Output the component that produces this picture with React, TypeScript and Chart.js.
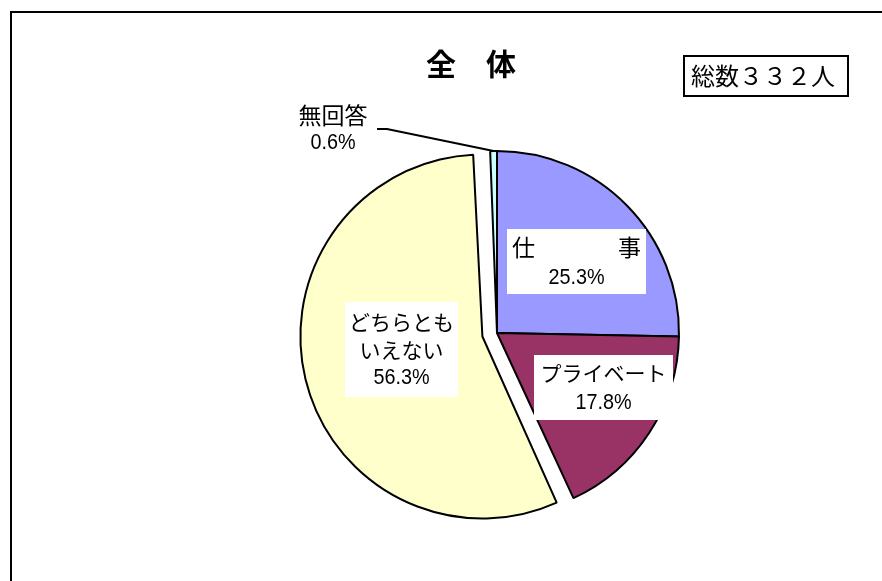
import React, { useEffect, useRef } from "react";
import { Chart, registerables } from "chart.js";

Chart.register(...registerables);

// ---- data ----
const categories = ["仕事", "プライベート", "どちらともいえない", "無回答"];
const percentages = [25.3, 17.8, 56.3, 0.6];
const valueLabels = ["25.3%", "17.8%", "56.3%", "0.6%"];
const sliceColors = ["#9999FF", "#993366", "#FFFFCC", "#CCFFFF"];
const explodeAmounts = [0, 0, 60, 0];
const chartTitle = "全　体";
const totalLabel = "総数３３２人";

// label text lines (a line given as two parts is spread to the box edges)
// each line: [parts, kind]  kind: "k" kanji, "j" kana, "n" number
const labelLines: [string[], string][][] = [
  [[["仕", "事"], "k"], [[valueLabels[0]], "n"]],
  [[["プライベート"], "j"], [[valueLabels[1]], "n"]],
  [[["どちらとも"], "j"], [["いえない"], "j"], [[valueLabels[2]], "n"]],
  [[["無回答"], "k"], [[valueLabels[3]], "n"]],
];

// label placement relative to pie centre (px) and box sizes
const labelLayout = [
  { dx: 79.5, dy: -71.5, w: 139, h: 65, lh: 31, shift: 1, box: true },
  { dx: 106.5, dy: 54.5, w: 139, h: 65, lh: 30, shift: 0.5, box: true },
  { dx: -95.5, dy: 16.5, w: 113, h: 95, lh: 28, shift: 0.5, box: true },
  { dx: -164, dy: -204, w: 80, h: 56, lh: 28, shift: 0, box: false },
];

const JP_FONT = '"Noto Sans CJK JP", sans-serif';
const NUM_FONT = '"Liberation Sans", "Noto Sans CJK JP", sans-serif';

function drawText(ctx: CanvasRenderingContext2D, text: string, x: number, y: number, kind: string, align: CanvasTextAlign) {
  ctx.textAlign = align;
  if (kind === "n") {
    ctx.save();
    ctx.font = `22px ${NUM_FONT}`;
    ctx.translate(x, y);
    ctx.scale(0.9, 1);
    ctx.fillText(text, 0, 0);
    ctx.restore();
  } else {
    ctx.font = kind === "k" ? `23px ${JP_FONT}` : `21px ${JP_FONT}`;
    ctx.fillText(text, x, y);
  }
}

const overlayPlugin = {
  id: "overlay",
  beforeDatasetsDraw(chart: any) {
    const arcs = chart.getDatasetMeta(0).data as any[];
    const baseR = arcs[0].outerRadius;
    arcs.forEach((arc, i) => {
      const off = explodeAmounts[i];
      if (off) arc.outerRadius = baseR - off / 4;
    });
  },
  afterDraw(chart: any) {
    const ctx: CanvasRenderingContext2D = chart.ctx;
    const arcs = chart.getDatasetMeta(0).data as any[];
    const cx = arcs[0].x;
    const cy = arcs[0].y;
    const R = arcs[0].outerRadius;

    ctx.save();
    // outer frame
    ctx.fillStyle = "#000";
    ctx.fillRect(10, 11, 872, 2);
    ctx.fillRect(10, 11, 2, 570);

    // title
    ctx.font = `bold 30px ${JP_FONT}`;
    ctx.textAlign = "center";
    ctx.textBaseline = "middle";
    ctx.fillStyle = "#000";
    ctx.fillText(chartTitle, 471, 64);

    // total box
    ctx.fillStyle = "#fff";
    ctx.fillRect(684, 56, 164, 40);
    ctx.strokeStyle = "#000";
    ctx.lineWidth = 2;
    ctx.strokeRect(684, 56, 164, 40);
    ctx.fillStyle = "#000";
    ctx.font = `24px ${JP_FONT}`;
    ctx.textAlign = "center";
    ctx.fillText(totalLabel, 763, 76);

    // leader line for 無回答
    const small = arcs[3];
    const mid = (small.startAngle + small.endAngle) / 2;
    const ex = cx + Math.cos(mid) * R;
    const ey = cy + Math.sin(mid) * R;
    const L = labelLayout[3];
    ctx.beginPath();
    ctx.moveTo(cx + L.dx + 44, cy + L.dy);
    ctx.lineTo(cx + L.dx + 54, cy + L.dy);
    ctx.lineTo(ex, ey);
    ctx.lineWidth = 2;
    ctx.strokeStyle = "#000";
    ctx.stroke();

    // data labels
    labelLines.forEach((lines, i) => {
      const lay = labelLayout[i];
      const bx = cx + lay.dx;
      const by = cy + lay.dy;
      if (lay.box) {
        ctx.fillStyle = "#fff";
        ctx.fillRect(Math.round(bx - lay.w / 2), Math.round(by - lay.h / 2), lay.w, lay.h);
      }
      ctx.fillStyle = "#000";
      const n = lines.length;
      lines.forEach(([parts, kind], j) => {
        const y = by + (j - (n - 1) / 2) * lay.lh + lay.shift;
        if (parts.length === 2) {
          drawText(ctx, parts[0], bx - lay.w / 2 + 5, y, kind, "left");
          drawText(ctx, parts[1], bx + lay.w / 2 - 5, y, kind, "right");
        } else {
          drawText(ctx, parts[0], bx, y, kind, "center");
        }
      });
    });
    ctx.restore();
  },
};

export default function App() {
  const canvasRef = useRef<HTMLCanvasElement | null>(null);

  useEffect(() => {
    if (!canvasRef.current) return;
    const chart = new Chart(canvasRef.current, {
      type: "pie",
      data: {
        labels: categories,
        datasets: [
          {
            data: percentages,
            backgroundColor: sliceColors,
            borderColor: "#000",
            borderWidth: 2,
            offset: explodeAmounts,
            hoverOffset: 0,
          } as any,
        ],
      },
      options: {
        animation: false,
        responsive: false,
        devicePixelRatio: 1,
        radius: 182,
        rotation: 0,
        layout: { padding: { left: 112, right: 0, top: 85, bottom: 0 } },
        plugins: {
          legend: { display: false },
          tooltip: { enabled: false },
          title: { display: false },
        },
        events: [],
      } as any,
      plugins: [overlayPlugin],
    });
    return () => chart.destroy();
  }, []);

  return (
    <div style={{ position: "absolute", left: 0, top: 0, width: 882, height: 581, background: "#fff" }}>
      <canvas ref={canvasRef} width={882} height={581} style={{ display: "block" }} />
    </div>
  );
}
